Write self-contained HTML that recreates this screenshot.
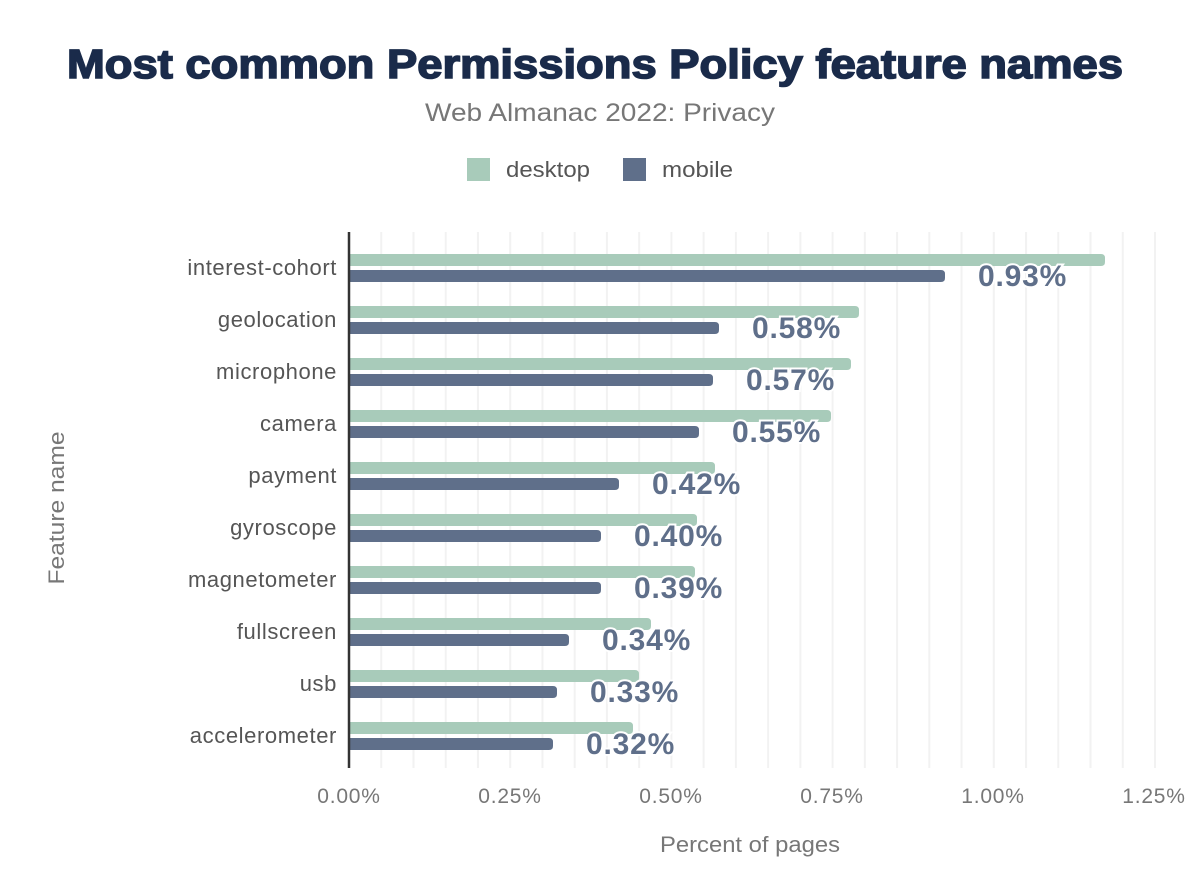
<!DOCTYPE html>
<html><head><meta charset="utf-8"><style>
html,body{margin:0;padding:0;background:#fff;}
svg{display:block;font-family:"Liberation Sans",Arial,sans-serif;}
</style></head><body>
<svg width="1200" height="896" viewBox="0 0 1200 896" xmlns="http://www.w3.org/2000/svg">
<rect width="1200" height="896" fill="#fff"/>
<text x="595" y="78" text-anchor="middle" font-size="41" font-weight="bold" fill="#1a2b4a" stroke="#1a2b4a" stroke-width="1.6" textLength="1056" lengthAdjust="spacingAndGlyphs">Most common Permissions Policy feature names</text>
<text x="600" y="121" text-anchor="middle" font-size="25" fill="#777" textLength="350" lengthAdjust="spacingAndGlyphs">Web Almanac 2022: Privacy</text>
<rect x="467" y="158" width="23" height="23" fill="#a8cbba"/>
<text x="506" y="177" font-size="22" fill="#555" textLength="84" lengthAdjust="spacingAndGlyphs">desktop</text>
<rect x="623" y="158" width="23" height="23" fill="#5f6f8a"/>
<text x="662" y="177" font-size="22" fill="#555" textLength="71" lengthAdjust="spacingAndGlyphs">mobile</text>
<g stroke="#f2f2f2" stroke-width="2" id="grid"></g>
<g id="bars"></g>
<line x1="349" y1="232" x2="349" y2="768" stroke="#333" stroke-width="2.5"/>
<g font-size="21" fill="#777" text-anchor="middle" letter-spacing="0.8">
<text x="349" y="803">0.00%</text><text x="510" y="803">0.25%</text><text x="671" y="803">0.50%</text><text x="832" y="803">0.75%</text><text x="993" y="803">1.00%</text><text x="1154" y="803">1.25%</text>
</g>
<text x="750" y="852" text-anchor="middle" font-size="22" fill="#777" textLength="180" lengthAdjust="spacingAndGlyphs">Percent of pages</text>
<text transform="translate(64,508) rotate(-90)" text-anchor="middle" font-size="22" fill="#777" textLength="153" lengthAdjust="spacingAndGlyphs">Feature name</text>
</svg>
<script>
var ns="http://www.w3.org/2000/svg",svg=document.querySelector("svg");
var g=document.getElementById("grid");
for(var i=1;i<=25;i++){var x=349+i*32.24;var l=document.createElementNS(ns,"line");l.setAttribute("x1",x);l.setAttribute("x2",x);l.setAttribute("y1",232);l.setAttribute("y2",768);g.appendChild(l);}
var d=[["interest-cohort",1105,945,"0.93%"],["geolocation",859,719,"0.58%"],["microphone",851,713,"0.57%"],["camera",831,699,"0.55%"],["payment",715,619,"0.42%"],["gyroscope",697,601,"0.40%"],["magnetometer",695,601,"0.39%"],["fullscreen",651,569,"0.34%"],["usb",639,557,"0.33%"],["accelerometer",633,553,"0.32%"]];
var b=document.getElementById("bars");
function el(t,a,p){var e=document.createElementNS(ns,t);for(var k in a)e.setAttribute(k,a[k]);(p||b).appendChild(e);return e;}
d.forEach(function(r,i){var y=254+i*52;
el("path",{d:"M349 "+y+"H"+(r[1]-4)+"Q"+r[1]+" "+y+" "+r[1]+" "+(y+4)+"V"+(y+8)+"Q"+r[1]+" "+(y+12)+" "+(r[1]-4)+" "+(y+12)+"H349Z",fill:"#a8cbba"});
var y2=y+16;
el("path",{d:"M349 "+y2+"H"+(r[2]-4)+"Q"+r[2]+" "+y2+" "+r[2]+" "+(y2+4)+"V"+(y2+8)+"Q"+r[2]+" "+(y2+12)+" "+(r[2]-4)+" "+(y2+12)+"H349Z",fill:"#5f6f8a"});
var t=el("text",{x:337,y:y+21,"text-anchor":"end","font-size":"22",fill:"#555","letter-spacing":"0.6"});t.textContent=r[0];
var v=el("text",{x:r[2]+33,y:y+32,"font-size":"30","font-weight":"bold",fill:"#5f6f8a",stroke:"#fff","stroke-width":"4","paint-order":"stroke","letter-spacing":"0.8"});v.textContent=r[3];
});
</script>
</body></html>
